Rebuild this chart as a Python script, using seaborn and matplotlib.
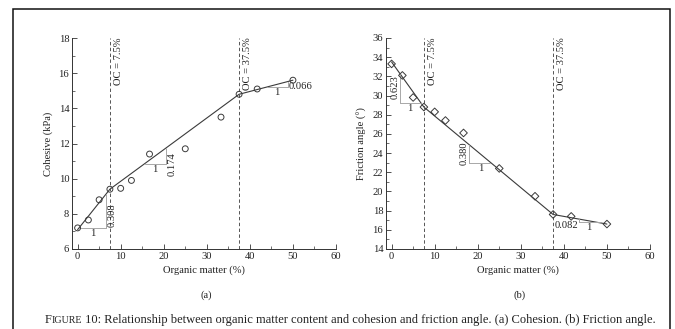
import numpy as np
import pandas as pd
import matplotlib
matplotlib.use("Agg")
import matplotlib.pyplot as plt
import seaborn as sns
from matplotlib.ticker import MultipleLocator
from matplotlib.patches import Rectangle

# ---------------- data ----------------
organic = [0, 2.5, 5, 7.5, 10, 12.5, 16.7, 25, 33.3, 37.5, 41.7, 50]
cohesion = [7.2, 7.65, 8.8, 9.4, 9.45, 9.9, 11.4, 11.7, 13.5, 14.8, 15.1, 15.6]
friction = [33.3, 32.1, 29.8, 28.8, 28.3, 27.4, 26.1, 22.4, 19.5, 17.6, 17.4, 16.6]

fit_x = [0, 7.5, 37.5, 50]
fit_cohesion = [7.1, 9.4, 14.8, 15.6]
fit_friction = [33.5, 28.8, 17.6, 16.6]

oc_breaks = [7.5, 37.5]
oc_labels = ["OC = 7.5%", "OC = 37.5%"]
slopes_cohesion = ["0.308", "0.174", "0.066"]
slopes_friction = ["0.623", "0.380", "0.082"]

x_ticks = [0, 10, 20, 30, 40, 50, 60]
cohesion_ticks = [6, 8, 10, 12, 14, 16, 18]
friction_ticks = [14, 16, 18, 20, 22, 24, 26, 28, 30, 32, 34, 36]

df = pd.DataFrame({"om": organic, "c": cohesion, "phi": friction})
fit_df = pd.DataFrame({"om": fit_x, "c": fit_cohesion, "phi": fit_friction})

# ---------------- style ----------------
sns.set_theme(style="ticks")
plt.rcParams["font.family"] = ["Liberation Serif", "DejaVu Serif"]
plt.rcParams["xtick.direction"] = "in"
plt.rcParams["ytick.direction"] = "in"

W, H = 675, 329
fig = plt.figure(figsize=(W / 100, H / 100), dpi=100)

def fx(px):
    return px / W

def fy(py):
    return 1 - py / H

ax1 = fig.add_axes([fx(72), fy(249), fx(336) - fx(72), fy(38) - fy(249)])
ax2 = fig.add_axes([fx(386), fy(249), fx(650) - fx(386), fy(38) - fy(249)])

LC = "#3a3a3a"
TC = "#a8a8a8"
FS = 7.6
TXT = "#222222"

def style_axis(ax, yticks, ylabel):
    ax.set_xlim(-1.3, 60)
    ax.set_ylim(yticks[0], yticks[-1])
    ax.set_xticks(x_ticks)
    ax.set_yticks(yticks)
    ax.xaxis.set_minor_locator(MultipleLocator(5))
    ax.yaxis.set_minor_locator(MultipleLocator((yticks[1] - yticks[0]) / 2))
    for s in ["top", "right"]:
        ax.spines[s].set_visible(False)
    for s in ["left", "bottom"]:
        ax.spines[s].set_linewidth(0.7)
        ax.spines[s].set_color("#333333")
    ax.tick_params(which="major", length=3.5, width=0.6, labelsize=FS, colors="#333333",
                   labelcolor=TXT, pad=2)
    ax.tick_params(which="minor", length=2, width=0.5, colors="#333333")
    ax.set_xlabel("Organic matter (%)", fontsize=FS, labelpad=3, color=TXT)
    ax.set_ylabel(ylabel, fontsize=FS, labelpad=4, color=TXT)

def on_line(xs, ys, x):
    return float(np.interp(x, xs, ys))

DASH = (0, (3.5, 2.5))

# ---------- panel (a) ----------
sns.lineplot(data=fit_df, x="om", y="c", ax=ax1, color=LC, linewidth=0.8)
sns.scatterplot(data=df, x="om", y="c", ax=ax1, marker="o", s=18,
                facecolor="none", edgecolor=LC, linewidth=0.7, zorder=5)
for xb, lab in zip(oc_breaks, oc_labels):
    ax1.axvline(xb, color="#555555", linestyle=DASH, linewidth=0.7)
    ax1.text(xb + 1.0, 18.05, lab, rotation=90, va="top", ha="left", fontsize=FS, color=TXT)

x1 = 6.6
y1 = 7.2
ax1.plot([0.3, x1], [y1, y1], color=TC, lw=0.7)
ax1.plot([x1, x1], [y1, on_line(fit_x, fit_cohesion, x1)], color=TC, lw=0.7)
ax1.text(3.5, y1 - 0.06, "1", ha="center", va="top", fontsize=FS, color=TXT)
ax1.text(x1 + 0.3, 7.95, slopes_cohesion[0], rotation=90, ha="left", va="center", fontsize=FS, color=TXT)

y2 = 10.85
x2s = 7.5 + (y2 - 9.4) / 0.18
x2 = 20.5
ax1.plot([x2s, x2], [y2, y2], color=TC, lw=0.7)
ax1.plot([x2, x2], [y2, on_line(fit_x, fit_cohesion, x2)], color=TC, lw=0.7)
ax1.text(18, y2 - 0.06, "1", ha="center", va="top", fontsize=FS, color=TXT)
ax1.text(x2 + 0.3, 10.85, slopes_cohesion[1], rotation=90, ha="left", va="center", fontsize=FS, color=TXT)

x3s = 44.0
y3 = on_line(fit_x, fit_cohesion, x3s)
x3 = 48.8
ax1.plot([x3s, x3], [y3, y3], color=TC, lw=0.7)
ax1.plot([x3, x3], [y3, on_line(fit_x, fit_cohesion, x3)], color=TC, lw=0.7)
ax1.text(46.2, y3 - 0.06, "1", ha="center", va="top", fontsize=FS, color=TXT)
ax1.text(x3 + 0.2, y3 + 0.02, slopes_cohesion[2], ha="left", va="center", fontsize=FS, color=TXT)

style_axis(ax1, cohesion_ticks, "Cohesive (kPa)")

# ---------- panel (b) ----------
sns.lineplot(data=fit_df, x="om", y="phi", ax=ax2, color=LC, linewidth=0.8)
sns.scatterplot(data=df, x="om", y="phi", ax=ax2, marker="D", s=15,
                facecolor="none", edgecolor=LC, linewidth=0.7, zorder=5)
for xb, lab in zip(oc_breaks, oc_labels):
    ax2.axvline(xb, color="#555555", linestyle=DASH, linewidth=0.7)
    ax2.text(xb + 1.0, 36.1, lab, rotation=90, va="top", ha="left", fontsize=FS, color=TXT)

bx1 = 2.0
by1 = 29.2
ax2.plot([bx1, bx1], [on_line(fit_x, fit_friction, bx1), by1], color=TC, lw=0.7)
ax2.plot([bx1, 6.9], [by1, by1], color=TC, lw=0.7)
ax2.text(bx1 - 0.2, 30.9, slopes_friction[0], rotation=90, ha="right", va="center", fontsize=FS, color=TXT)
ax2.text(4.3, by1 - 0.12, "1", ha="center", va="top", fontsize=FS, color=TXT)

bx2 = 18.0
by2 = 23.0
ax2.plot([bx2, bx2], [on_line(fit_x, fit_friction, bx2), by2], color=TC, lw=0.7)
ax2.plot([bx2, 22.8], [by2, by2], color=TC, lw=0.7)
ax2.text(bx2 - 0.2, 24.0, slopes_friction[1], rotation=90, ha="right", va="center", fontsize=FS, color=TXT)
ax2.text(20.6, by2 - 0.12, "1", ha="center", va="top", fontsize=FS, color=TXT)

bx3 = 43.5
by3 = 16.85
ax2.plot([bx3, bx3], [on_line(fit_x, fit_friction, bx3), by3], color=TC, lw=0.7)
ax2.plot([bx3, 48.5], [by3, by3], color=TC, lw=0.7)
ax2.text(37.8, 16.5, slopes_friction[2], ha="left", va="center", fontsize=FS, color=TXT)
ax2.text(45.8, by3 - 0.12, "1", ha="center", va="top", fontsize=FS, color=TXT)

style_axis(ax2, friction_ticks, "Friction angle (°)")

# panel letters
fig.text(fx(206), fy(295), "(a)", ha="center", va="center", fontsize=FS, color=TXT)
fig.text(fx(520), fy(295), "(b)", ha="center", va="center", fontsize=FS, color=TXT)

# caption with small caps
cap_y = fy(323)
t1 = fig.text(fx(45), cap_y, "F", fontsize=9.0, va="baseline", ha="left", color=TXT)
t2 = plt.annotate("IGURE", xy=(1, cap_y), xycoords=(t1, "figure fraction"),
                  fontsize=7.2, va="baseline", ha="left", annotation_clip=False, color=TXT)
plt.annotate(" 10: Relationship between organic matter content and cohesion and friction angle. (a) Cohesion. (b) Friction angle.",
             xy=(1, cap_y), xycoords=(t2, "figure fraction"),
             fontsize=9.0, va="baseline", ha="left", annotation_clip=False, color=TXT)

# figure frame
fig.add_artist(Rectangle((fx(13), -0.2), fx(670) - fx(13), fy(9) + 0.2,
                         transform=fig.transFigure, fill=False, edgecolor="#111111",
                         linewidth=1.1, clip_on=False))

fig.savefig("out.png", dpi=100)
